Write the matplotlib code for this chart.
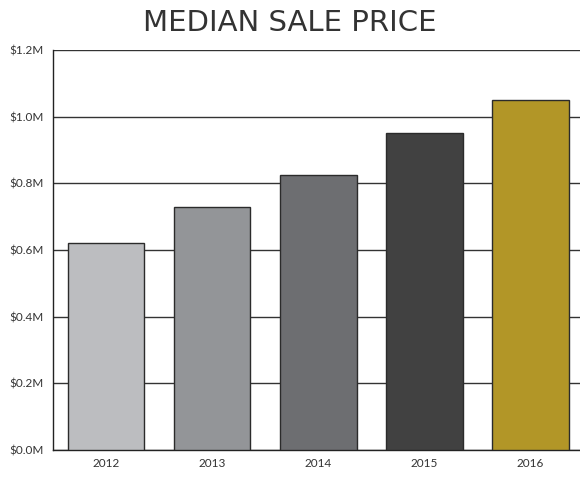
import numpy as np
import matplotlib
matplotlib.use("Agg")
import matplotlib.pyplot as plt

years = ["2012", "2013", "2014", "2015", "2016"]
prices = [0.62, 0.73, 0.825, 0.95, 1.05]  # millions
bar_colors = ["#bcbdc0", "#939598", "#6d6e71", "#414141", "#b29627"]
yticks = [0.0, 0.2, 0.4, 0.6, 0.8, 1.0, 1.2]
ytick_labels = ["$%.1fM" % v for v in yticks]

plt.rcParams['font.family'] = ['Lato', 'DejaVu Sans']

fig = plt.figure(figsize=(5.8, 4.79), dpi=100)
ax = fig.add_axes([53 / 580, 1 - 450 / 479, 527 / 580, 400 / 479])

x = np.arange(len(years))
ax.bar(x, prices, width=0.725, color=bar_colors, edgecolor="#2b2b2b",
       linewidth=1, zorder=3)

ax.set_ylim(0, 1.2)
ax.set_xlim(-0.5, 4.47)
ax.set_yticks(yticks)
ax.set_yticklabels(ytick_labels)
ax.set_xticks(x)
ax.set_xticklabels(years)
ax.tick_params(axis="both", length=0, labelsize=8.5, colors="#333333")
ax.tick_params(axis="y", pad=7)
ax.tick_params(axis="x", pad=6)

ax.yaxis.grid(True, color="#333333", linewidth=1, zorder=0)
ax.set_axisbelow(True)
for side in ["top", "right"]:
    ax.spines[side].set_visible(False)
for side in ["left", "bottom"]:
    ax.spines[side].set_color("#222222")
    ax.spines[side].set_linewidth(1)

fig.text(0.5, 1 - 23 / 479, "MEDIAN SALE PRICE", ha="center", va="center",
         fontsize=21, fontweight="normal", color="#333333",
         family=["DejaVu Sans"])

fig.savefig("out.png", dpi=100)
